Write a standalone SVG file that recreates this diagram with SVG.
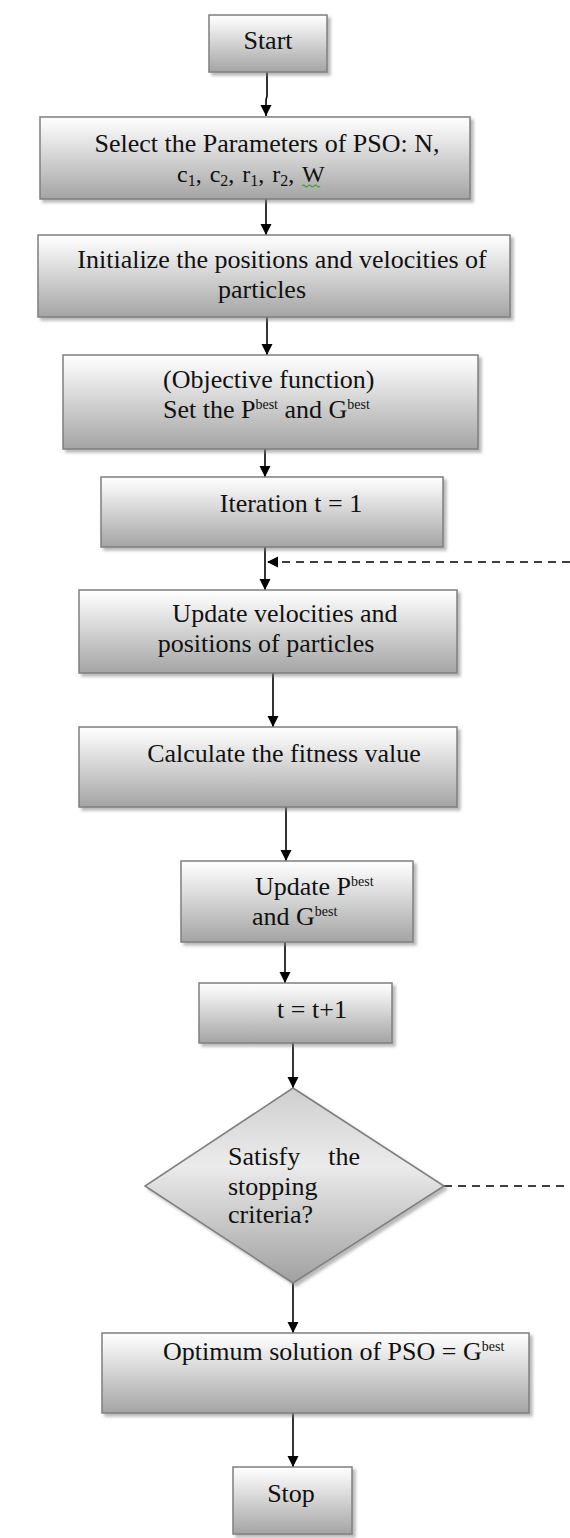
<svg xmlns="http://www.w3.org/2000/svg" width="570" height="1538" viewBox="0 0 570 1538">
  <defs>
    <linearGradient id="boxGrad" x1="0" y1="0" x2="0" y2="1">
      <stop offset="0" stop-color="#ffffff"/>
      <stop offset="0.15" stop-color="#f3f3f3"/>
      <stop offset="1" stop-color="#a4a4a4"/>
    </linearGradient>
    <linearGradient id="diaGrad" x1="0" y1="0" x2="0" y2="1">
      <stop offset="0" stop-color="#cfcfcf"/>
      <stop offset="0.4" stop-color="#ebebeb"/>
      <stop offset="1" stop-color="#a0a0a0"/>
    </linearGradient>
    <filter id="shadow" x="-10%" y="-10%" width="130%" height="140%">
      <feDropShadow dx="3" dy="3" stdDeviation="1.5" flood-color="#808080" flood-opacity="0.55"/>
    </filter>
    <marker id="arrow" markerUnits="userSpaceOnUse" markerWidth="12" markerHeight="12" refX="11" refY="6" orient="auto">
      <path d="M0,0.5 L11,6 L0,11.5 z" fill="#000"/>
    </marker>
  </defs>
  <style>
    .box { fill: url(#boxGrad); stroke: #7f7f7f; stroke-width: 1.5; filter: url(#shadow); }
    .dia { fill: url(#diaGrad); stroke: #7f7f7f; stroke-width: 1.5; filter: url(#shadow); }
    .t { font-family: "Liberation Serif", "Times New Roman", serif; font-size: 26px; fill: #111; }
    .sm { font-size: 24px; word-spacing: 2px; }
    .sup { font-size: 14px; }
    .sub { font-size: 16px; }
    .line { stroke: #000; stroke-width: 1.6; fill: none; }
    .arr { marker-end: url(#arrow); }
    .dash { stroke-dasharray: 8 6; }
  </style>

  <g id="connectors">
    <path class="line arr" d="M267,72 L267,96 L266,100 L266,116"/>
    <line class="line arr" x1="266" y1="199" x2="266" y2="235"/>
    <line class="line arr" x1="267" y1="317" x2="267" y2="355"/>
    <line class="line arr" x1="265" y1="449" x2="265" y2="477"/>
    <line class="line arr" x1="265" y1="547" x2="265" y2="590"/>
    <line class="line arr" x1="273" y1="673" x2="273" y2="727"/>
    <line class="line arr" x1="286" y1="807" x2="286" y2="861"/>
    <line class="line arr" x1="285" y1="942" x2="285" y2="983"/>
    <line class="line arr" x1="293" y1="1043" x2="293" y2="1088"/>
    <line class="line arr" x1="293" y1="1283" x2="293" y2="1333"/>
    <line class="line arr" x1="293" y1="1413" x2="293" y2="1467"/>
    <line class="line dash" x1="444" y1="1186" x2="570" y2="1186"/>
    <line class="line dash arr" x1="570" y1="562" x2="267" y2="562"/>
  </g>

  <g id="start">
    <rect class="box" x="209" y="15" width="118" height="57"/>
    <text class="t" x="268" y="49" text-anchor="middle">Start</text>
  </g>

  <g id="select-params">
    <rect class="box" x="40" y="117" width="430" height="82"/>
    <text class="t" x="267" y="152" text-anchor="middle">Select the Parameters of PSO: N,</text>
    <text class="t sm" x="177" y="182">c<tspan class="sub" dy="4">1</tspan><tspan dy="-4">, c</tspan><tspan class="sub" dy="4">2</tspan><tspan dy="-4">, r</tspan><tspan class="sub" dy="4">1</tspan><tspan dy="-4">, r</tspan><tspan class="sub" dy="4">2</tspan><tspan dy="-4">, W</tspan></text>
    <path d="M302,186 q1.5,-2 3,0 t3,0 t3,0 t3,0 t3,0 t3,0" stroke="#2ea02e" stroke-width="1.2" fill="none"/>
  </g>

  <g id="initialize">
    <rect class="box" x="38" y="235" width="472" height="82"/>
    <text class="t" x="282" y="268" text-anchor="middle">Initialize the positions and velocities of</text>
    <text class="t" x="262" y="298" text-anchor="middle">particles</text>
  </g>

  <g id="objective">
    <rect class="box" x="63" y="355" width="415" height="94"/>
    <text class="t" x="163" y="388">(Objective function)</text>
    <text class="t" x="163" y="418">Set the P<tspan class="sup" dy="-9">best</tspan><tspan dy="9"> and G</tspan><tspan class="sup" dy="-9">best</tspan></text>
  </g>

  <g id="iteration">
    <rect class="box" x="101" y="477" width="342" height="70"/>
    <text class="t" x="291" y="512" text-anchor="middle">Iteration t = 1</text>
  </g>

  <g id="update-velocities">
    <rect class="box" x="79" y="590" width="378" height="83"/>
    <text class="t" x="285" y="622" text-anchor="middle">Update velocities and</text>
    <text class="t" x="266" y="652" text-anchor="middle">positions of particles</text>
  </g>

  <g id="fitness">
    <rect class="box" x="79" y="727" width="378" height="80"/>
    <text class="t" x="284" y="762" text-anchor="middle">Calculate the fitness value</text>
  </g>

  <g id="update-best">
    <rect class="box" x="181" y="861" width="232" height="81"/>
    <text class="t" x="255" y="895">Update P<tspan class="sup" dy="-9">best</tspan></text>
    <text class="t" x="252" y="925">and G<tspan class="sup" dy="-9">best</tspan></text>
  </g>

  <g id="increment">
    <rect class="box" x="199" y="983" width="193" height="60"/>
    <text class="t" x="312" y="1018" text-anchor="middle">t = t+1</text>
  </g>

  <g id="decision">
    <polygon class="dia" points="293,1088 444,1186 293,1283 145,1186"/>
    <text class="t" x="228" y="1165">Satisfy</text>
    <text class="t" x="360" y="1165" text-anchor="end">the</text>
    <text class="t" x="228" y="1195">stopping</text>
    <text class="t" x="228" y="1223">criteria?</text>
  </g>

  <g id="optimum">
    <rect class="box" x="102" y="1333" width="427" height="80"/>
    <text class="t" x="163" y="1360">Optimum solution of PSO = G<tspan class="sup" dy="-9">best</tspan></text>
  </g>

  <g id="stop">
    <rect class="box" x="233" y="1467" width="119" height="67"/>
    <text class="t" x="291" y="1502" text-anchor="middle">Stop</text>
  </g>
</svg>
